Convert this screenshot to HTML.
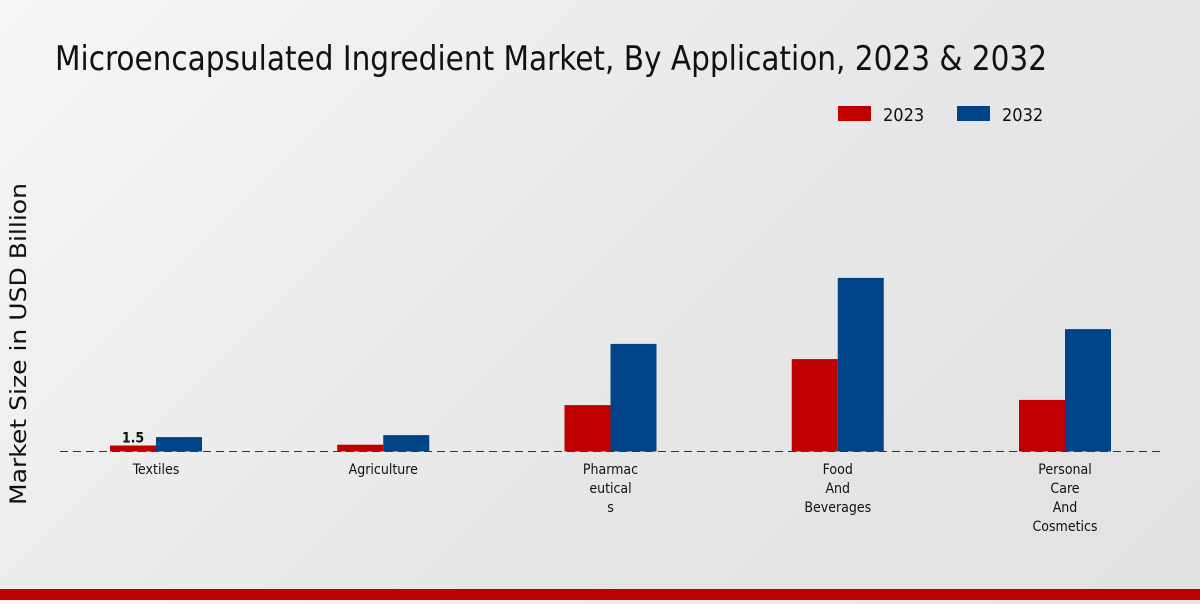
<!DOCTYPE html>
<html><head><meta charset="utf-8"><style>
body{margin:0;width:1200px;height:600px;overflow:hidden;background:linear-gradient(135deg,#f6f6f6 0%,#e6e6e6 60%,#e2e2e2 100%);font-family:"DejaVu Sans Condensed","Liberation Sans",sans-serif;}
</style></head><body>
<svg width="1200" height="600" xmlns="http://www.w3.org/2000/svg">
<text x="55" y="70" font-size="34" fill="#111" font-family="DejaVu Sans Condensed, Liberation Sans, sans-serif" textLength="992" lengthAdjust="spacingAndGlyphs">Microencapsulated Ingredient Market, By Application, 2023 &amp; 2032</text>
<g>
<rect x="838" y="106" width="33" height="15" fill="#c00000"/>
<text x="883" y="121" font-size="18" fill="#111">2023</text>
<rect x="957" y="106" width="33" height="15" fill="#004488"/>
<text x="1002" y="121" font-size="18" fill="#111">2032</text>
</g>
<text transform="translate(26,344) rotate(-90)" text-anchor="middle" font-size="22" fill="#111" font-family="DejaVu Sans, sans-serif" textLength="322" lengthAdjust="spacingAndGlyphs">Market Size in USD Billion</text>
<line x1="60" y1="451.5" x2="1160" y2="451.5" stroke="#333" stroke-dasharray="8,5" stroke-width="1"/>
<g id="bars"></g>
<g id="labels"></g>
<rect x="0" y="589" width="1200" height="11" fill="#c00000"/>
</svg>
<script>
const categories=[["Textiles"],["Agriculture"],["Pharmac","eutical","s"],["Food","And","Beverages"],["Personal","Care","And","Cosmetics"]];
const values2023=[1.5,1.7,11.6,23.1,12.9];
const values2032=[3.6,4.1,26.9,43.4,30.6];
const ns="http://www.w3.org/2000/svg";
const base=451.5, scale=4.0, x0=156, step=227.25, bw=46;
const yv=v=>base-v*scale;
const xc=i=>x0+i*step;
const bars=document.getElementById('bars'), labels=document.getElementById('labels');
categories.forEach((c,i)=>{
  const r=document.createElementNS(ns,'rect');
  r.setAttribute('x',xc(i)-bw);r.setAttribute('y',yv(values2023[i]));r.setAttribute('width',bw);r.setAttribute('height',base-yv(values2023[i]));r.setAttribute('fill','#c00000');
  
  
  bars.appendChild(r);
  const b=document.createElementNS(ns,'rect');
  b.setAttribute('x',xc(i));b.setAttribute('y',yv(values2032[i]));b.setAttribute('width',bw);b.setAttribute('height',base-yv(values2032[i]));b.setAttribute('fill','#004488');
  
  
  bars.appendChild(b);
  c.forEach((line,k)=>{
    const t=document.createElementNS(ns,'text');
    t.setAttribute('x',xc(i));t.setAttribute('y',474+k*19);t.setAttribute('text-anchor','middle');t.setAttribute('font-size','14');t.setAttribute('fill','#111');
    t.textContent=line;
    
    
    labels.appendChild(t);
  });
});
const vl=document.createElementNS(ns,'text');
vl.setAttribute('x',xc(0)-bw/2);vl.setAttribute('y',yv(values2023[0])-3);vl.setAttribute('text-anchor','middle');vl.setAttribute('font-size','14');vl.setAttribute('font-weight','bold');vl.setAttribute('fill','#111');
vl.textContent=values2023[0];


labels.appendChild(vl);
</script>
</body></html>
